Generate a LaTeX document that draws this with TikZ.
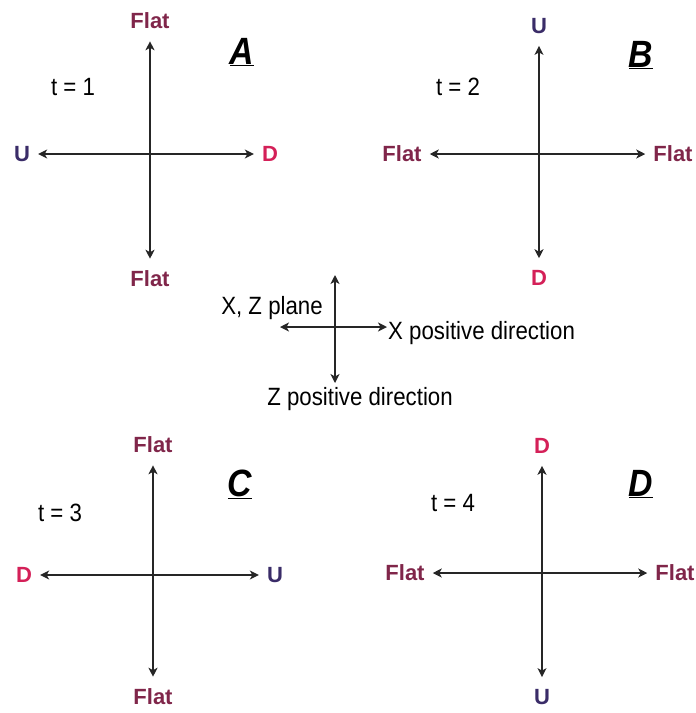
\documentclass[tikz,border=0pt]{standalone}
\usepackage{fontspec}
\setmainfont{Liberation Sans}
\newfontfamily\narrowsans{Liberation Sans}[FakeStretch=0.89]
\usepackage{xcolor}
\usetikzlibrary{positioning,arrows.meta}

\definecolor{flatred}{RGB}{128,38,74}
\definecolor{dred}{RGB}{212,32,88}
\definecolor{unavy}{RGB}{58,44,104}

\begin{document}
\begin{tikzpicture}[
    x=1pt, y=-1pt,
    axis/.style={{Stealth[length=9pt,width=9pt,inset=2.5pt]}-{Stealth[length=9pt,width=9pt,inset=2.5pt]},
                 line width=1.4pt, draw=black!85},
    vaxis/.style={axis, shorten <=12pt, shorten >=12pt},
    haxis/.style={axis, shorten <=8pt, shorten >=8pt},
    lbl/.style={inner sep=0pt, font=\bfseries\fontsize{22}{22}\selectfont},
    flatlbl/.style={lbl, text=flatred},
    ulbl/.style={lbl, text=unavy},
    dlbl/.style={lbl, text=dred},
    tlbl/.style={inner sep=0pt, font=\narrowsans\fontsize{25}{25}\selectfont},
    note/.style={inner sep=1pt, font=\narrowsans\fontsize{25}{25}\selectfont},
    panel/.style={inner sep=0pt, font=\narrowsans\bfseries\itshape\fontsize{38}{38}\selectfont},
  ]
  \useasboundingbox (0,0) rectangle (696,713);

  % A, t = 1
  \node[flatlbl] (Atop) at (150,21) {Flat};
  \node[flatlbl] (Abot) at (150,279) {Flat};
  \node[ulbl] (Aleft) at (22,154) {U};
  \node[dlbl] (Aright) at (270,154) {D};
  \node[tlbl] (Atime) at (73,87) {t = 1};
  \node[panel] (Aname) at (242,52) {\underline{A}};
  \draw[vaxis] (Atop) -- (Abot);
  \draw[haxis] (Aleft) -- (Aright);

  % B, t = 2
  \node[ulbl] (Btop) at (539,26) {U};
  \node[dlbl] (Bbot) at (539,278) {D};
  \node[flatlbl] (Bleft) at (402,154) {Flat};
  \node[flatlbl] (Bright) at (673,154) {Flat};
  \node[tlbl] (Btime) at (458,87) {t = 2};
  \node[panel] (Bname) at (641,55) {\underline{B}};
  \draw[vaxis] (Btop) -- (Bbot);
  \draw[haxis] (Bleft) -- (Bright);

  % X, Z plane
  \coordinate (zup) at (335,275);
  \coordinate (zdn) at (335,383);
  \coordinate (xneg) at (280,327);
  \node[note, anchor=west] (xpos) at (387,333) {X positive direction};
  \node[note] (plane) at (272,308) {X, Z plane};
  \node[note] (zpos) at (360,399) {Z positive direction};
  \draw[axis] (xneg) -- (xneg -| xpos.west);
  \draw[axis] (zup) -- (zdn);

  % C, t = 3
  \node[flatlbl] (Ctop) at (153,445) {Flat};
  \node[flatlbl] (Cbot) at (153,697) {Flat};
  \node[dlbl] (Cleft) at (24,575) {D};
  \node[ulbl] (Cright) at (275,575) {U};
  \node[tlbl] (Ctime) at (60,513) {t = 3};
  \node[panel] (Cname) at (240,484) {\underline{C}};
  \draw[vaxis] (Ctop) -- (Cbot);
  \draw[haxis] (Cleft) -- (Cright);

  % D, t = 4
  \node[dlbl] (Dtop) at (542,446) {D};
  \node[ulbl] (Dbot) at (542,697) {U};
  \node[flatlbl] (Dleft) at (405,573) {Flat};
  \node[flatlbl] (Dright) at (675,573) {Flat};
  \node[tlbl] (Dtime) at (453,503) {t = 4};
  \node[panel] (Dname) at (641,484) {\underline{D}};
  \draw[vaxis] (Dtop) -- (Dbot);
  \draw[haxis] (Dleft) -- (Dright);
\end{tikzpicture}
\end{document}
